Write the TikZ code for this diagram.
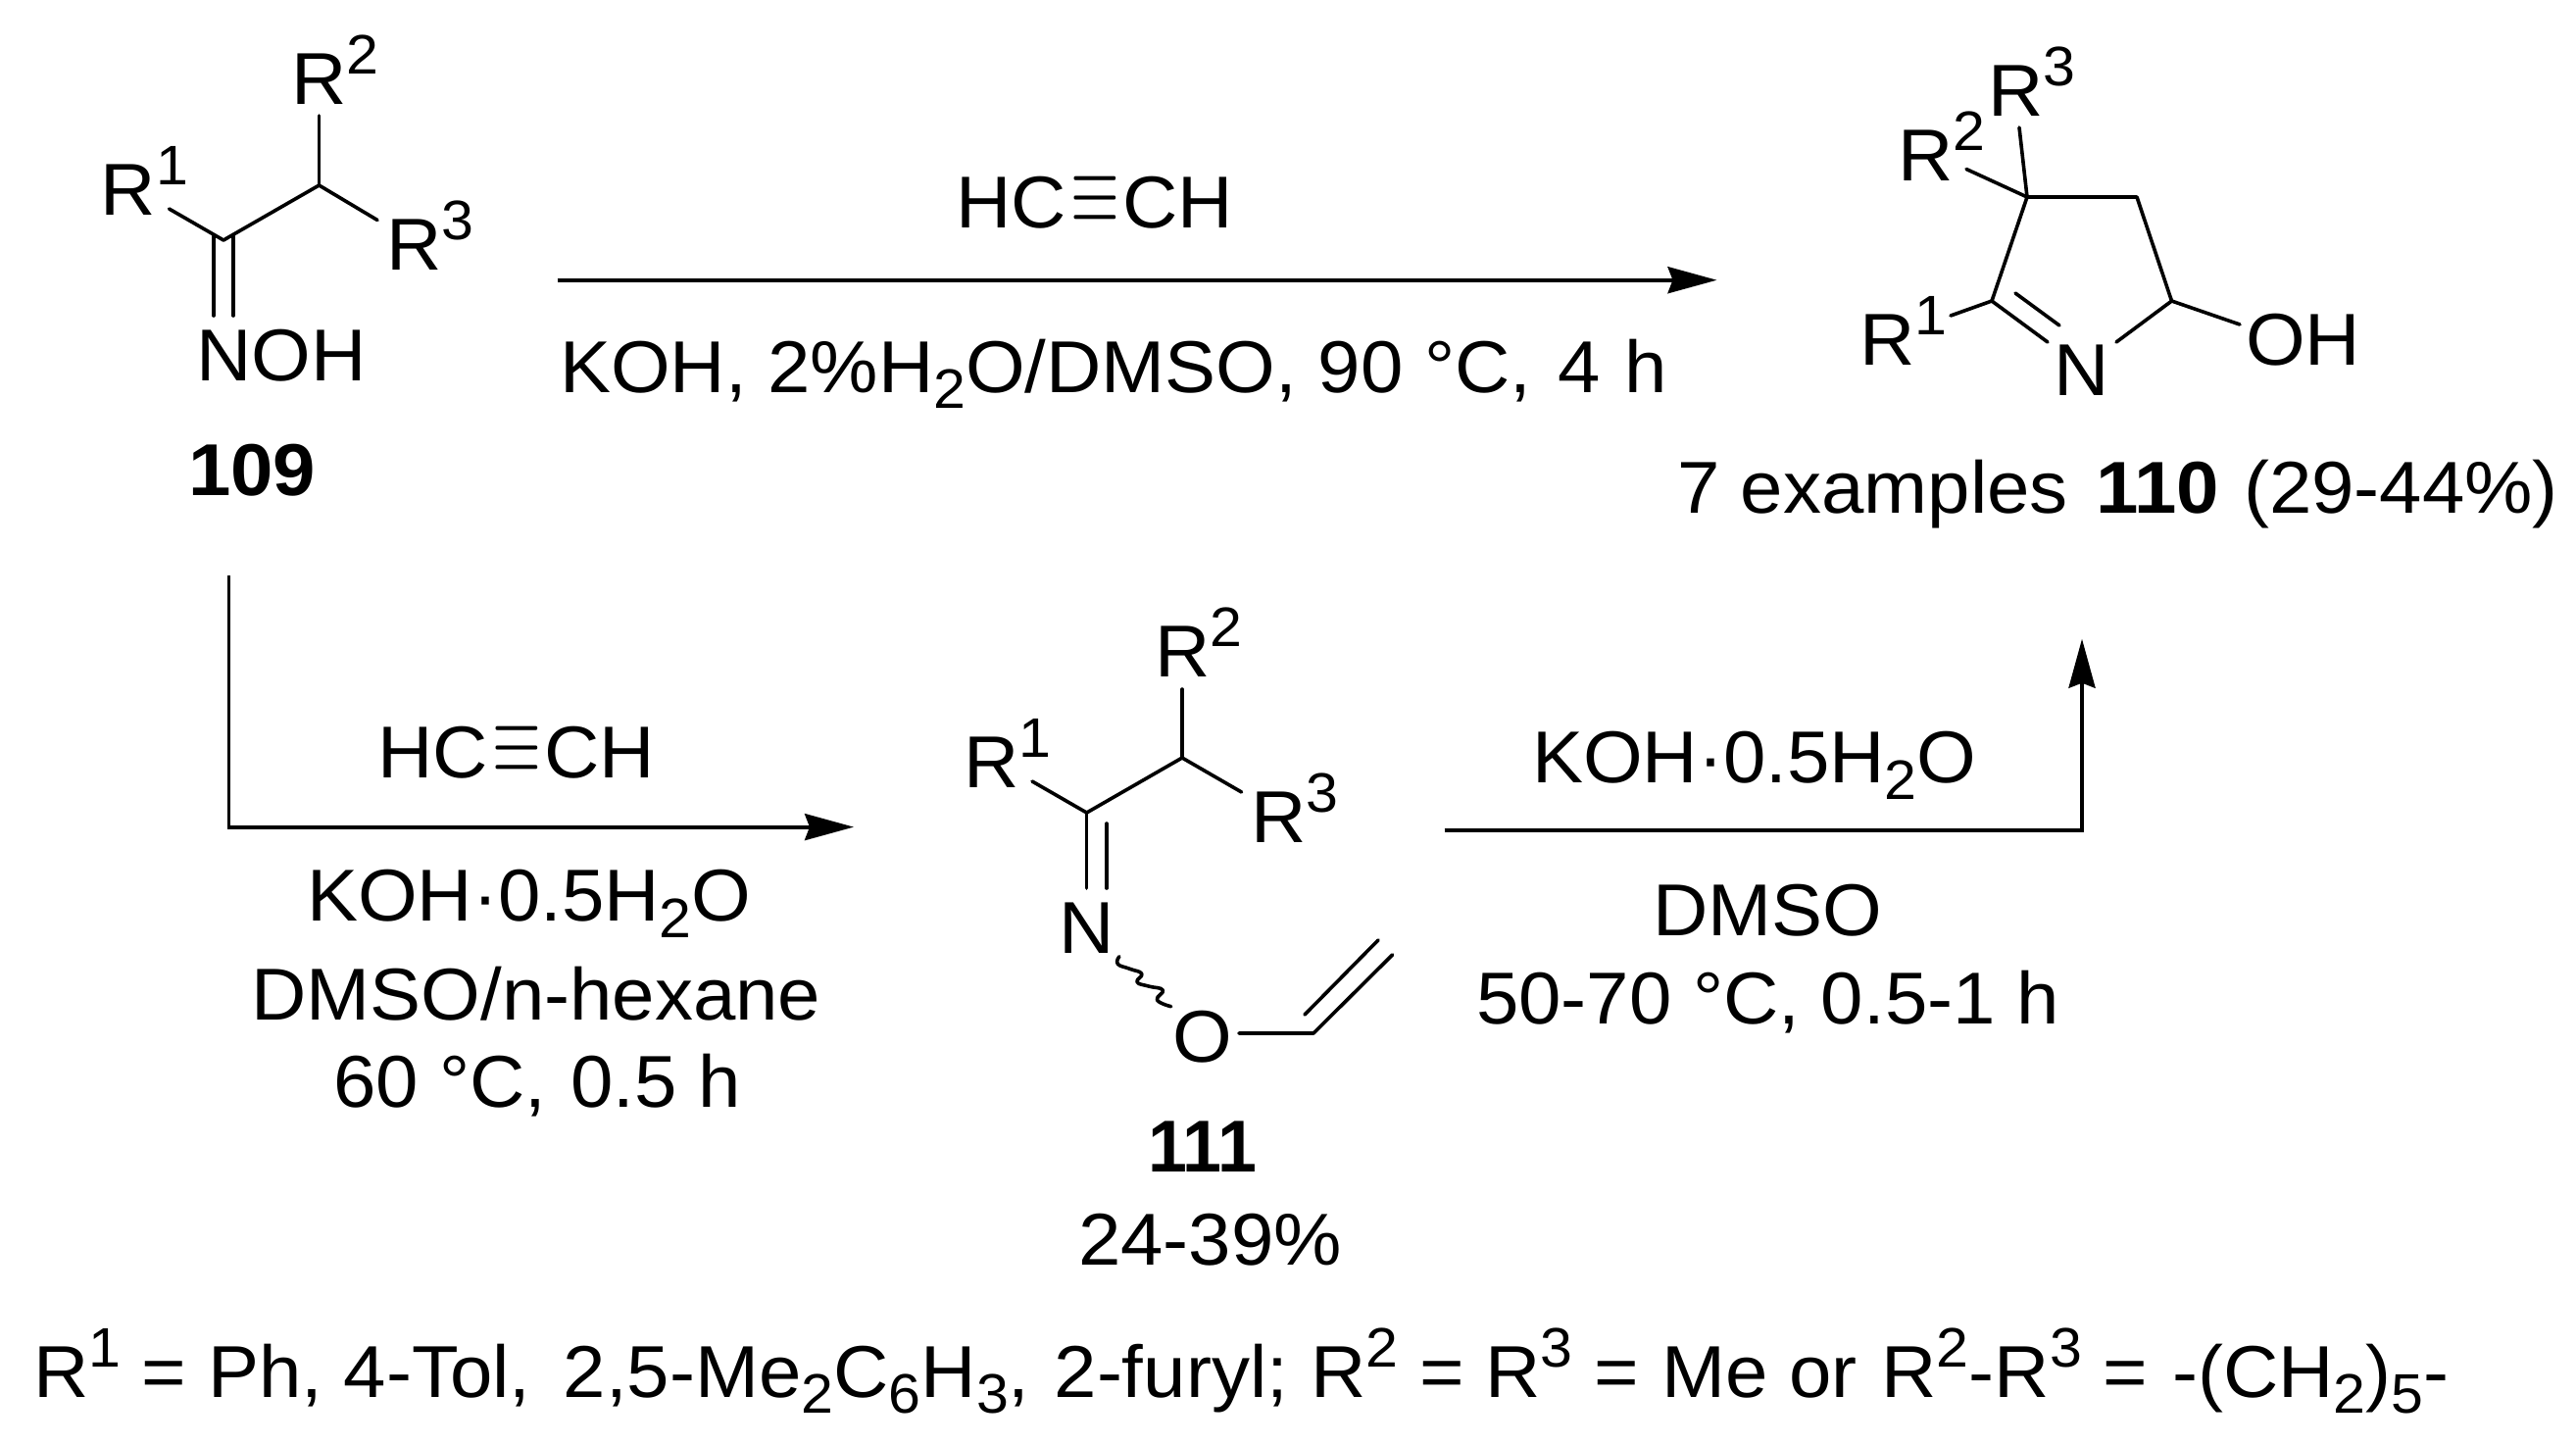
\documentclass[tikz,border=0pt]{standalone}
\usepackage{fontspec}
\usepackage{graphicx}
\setmainfont[FakeStretch=1.04]{Liberation Sans}
\usetikzlibrary{arrows.meta}
\newcommand{\upidx}[1]{\raisebox{15.5pt}{\fontsize{28.4}{30}\selectfont #1}}
\newcommand{\dnidx}[1]{\raisebox{-8.3pt}{\fontsize{28.4}{30}\selectfont #1}}
\newcommand{\trip}{\hspace{2.2pt}\raisebox{2.25pt}{\scalebox{3.2}[5.1]{\fontsize{10}{10}\selectfont$\equiv$}}\hspace{1.6pt}}
\tikzset{
  txt/.style={inner sep=0pt,outer sep=0pt,anchor=base west,font=\fontsize{37.5}{40}\selectfont},
  bond/.style={line width=1.8pt,line cap=round,line join=round},
  rxn/.style={line width=1.9pt,line join=miter},
  rxnhead/.style={-{Stealth[length=25pt,width=13.5pt,inset=2.5pt]}}
}
\begin{document}
\begin{tikzpicture}[x=0.5pt,y=-0.5pt]
\useasboundingbox (0,0) rectangle (2628,1473);
\fill[white] (0,0) rectangle (2628,1473);
% compound 109
\coordinate (a1) at (325.5,189);
\coordinate (a2) at (228,245);
\coordinate (a2r2) at (325.5,118);
\coordinate (a2r1) at (172.5,213);
\coordinate (a2r3) at (385,224.5);
\coordinate (a3) at (218,241);
\coordinate (a4) at (218,322);
\coordinate (a5) at (238,241);
\coordinate (a6) at (238,322);
\draw[bond] (a2r2) -- (a1);
\draw[bond] (a2r1) -- (a2) -- (a1) -- (a2r3);
\draw[bond] (a3) -- (a4);
\draw[bond] (a5) -- (a6);
\node[txt] (ar2) at (297.6,106) {R\upidx{2}};
\node[txt] (ar1) at (102.7,219) {R\upidx{1}};
\node[txt] (ar3) at (394.5,275) {R\upidx{3}};
\node[txt] (anoh) at (200,388) {NOH};
\node[txt] (a109) at (192,505) {\textbf{109}};
% top arrow
\coordinate (t1) at (568.5,285.7);
\coordinate (t2) at (1751.5,285.7);
\draw[rxn,rxnhead] (t1) -- (t2);
\node[txt] (t3) at (975,232) {HC\trip CH};
\node[txt] (t4) at (571,400) {KOH, 2\%H\dnidx{2}O/DMSO, 90 °C,\hspace{2.5pt} 4\hspace{1.5pt} h};
% compound 110
\coordinate (c4) at (2068,201);
\coordinate (c3) at (2180,201);
\coordinate (c5) at (2215.5,307);
\coordinate (c2) at (2032,307);
\coordinate (cn1) at (2089,349);
\coordinate (cn2) at (2159,349);
\coordinate (ci1) at (2056,299);
\coordinate (ci2) at (2101,332);
\coordinate (cr1) at (1990,322);
\coordinate (coh) at (2285,331);
\coordinate (cr2) at (2006,172.5);
\coordinate (cr3) at (2060,130);
\draw[bond] (cn1) -- (c2) -- (c4) -- (c3) -- (c5) -- (cn2);
\draw[bond] (ci1) -- (ci2);
\draw[bond] (cr1) -- (c2);
\draw[bond] (coh) -- (c5);
\draw[bond] (cr2) -- (c4);
\draw[bond] (cr3) -- (c4);
\node[txt] (lr3) at (2028,118) {R\upidx{3}};
\node[txt] (lr2) at (1936.5,184) {R\upidx{2}};
\node[txt] (lr1) at (1897,372) {R\upidx{1}};
\node[txt] (ln) at (2095,403.6) {N};
\node[txt] (loh) at (2291,372) {OH};
\node[txt] (l110) at (1711,523) {7 examples\hspace{3.3pt} \textbf{110}\hspace{1.7pt} (29-44\%)};
% lower left arrow
\coordinate (d1) at (233.5,587);
\coordinate (d2) at (233.5,843.6);
\coordinate (d3) at (871,843.6);
\draw[rxn,rxnhead] (d1) -- (d2) -- (d3);
\node[txt] (d4) at (385,793) {HC\trip CH};
\node[txt] (d5) at (313,939.7) {KOH·0.5H\dnidx{2}O};
\node[txt] (d6) at (256.5,1040) {DMSO/n-hexane};
\node[txt] (d7) at (340,1129.5) {60 °C,\hspace{1.5pt} 0.5 h};
% compound 111
\coordinate (e1) at (1206,773);
\coordinate (e2) at (1206,703);
\coordinate (e3) at (1108.6,829);
\coordinate (e4) at (1053,797);
\coordinate (e5) at (1266.6,808);
\coordinate (e6) at (1108.6,906);
\coordinate (e7) at (1129,840);
\coordinate (e8) at (1129,906);
\coordinate (e9) at (1141.9,975.7);
\coordinate (e10) at (1194.7,1026.7);
\coordinate (e11) at (1264,1054);
\coordinate (e12) at (1340,1054);
\coordinate (e13) at (1420.5,974);
\coordinate (e14) at (1331,1035);
\coordinate (e15) at (1406,959);
\draw[bond] (e2) -- (e1);
\draw[bond] (e4) -- (e3) -- (e1) -- (e5);
\draw[bond] (e3) -- (e6);
\draw[bond] (e7) -- (e8);
\draw[bond] plot[smooth,tension=.8] coordinates {(e9) (1140.3,983.3) (1152.6,988.3) (1164.8,993.3) (1160,1001.7) (1171.7,1006) (1186.3,1010) (1180.5,1020) (e10)};
\draw[bond] (e11) -- (e12) -- (e13);
\draw[bond] (e14) -- (e15);
\node[txt] (er2) at (1178,690) {R\upidx{2}};
\node[txt] (er1) at (983,803) {R\upidx{1}};
\node[txt] (er3) at (1276,859) {R\upidx{3}};
\node[txt] (en) at (1080,972) {N};
\node[txt] (eo) at (1196,1083) {O};
\node[txt] (e111) at (1171,1195) {\scalebox{0.92}[1]{\textbf{111}}};
\node[txt] (eyld) at (1100,1290) {24-39\%};
% right arrow
\coordinate (f1) at (1473.7,846.7);
\coordinate (f2) at (2124,846.7);
\coordinate (f3) at (2124,651.7);
\draw[rxn,rxnhead] (f1) -- (f2) -- (f3);
\node[txt] (f4) at (1563,798.7) {KOH·0.5H\dnidx{2}O};
\node[txt] (f5) at (1686,954) {DMSO};
\node[txt] (f6) at (1506,1044) {50-70 °C, 0.5-1 h};
% footnote
\node[txt] (g) at (34,1425) {R\upidx{1} = Ph, 4-Tol,\hspace{16.7pt}2,5-Me\dnidx{2}C\dnidx{6}H\dnidx{3},\hspace{1.7pt} 2-furyl;\hspace{0.8pt} R\upidx{2} = R\upidx{3} =\hspace{0.8pt} Me or\hspace{1.7pt} R\upidx{2}-R\upidx{3} =\hspace{1.7pt} -(CH\dnidx{2})\dnidx{5}-};
\end{tikzpicture}
\end{document}
